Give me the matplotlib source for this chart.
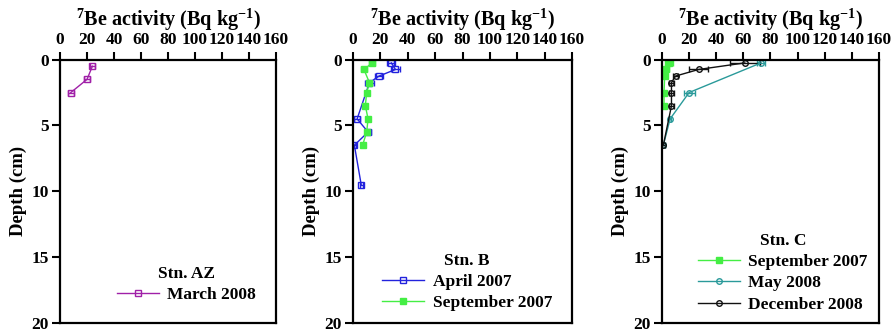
import matplotlib.pyplot as plt
from matplotlib.lines import Line2D

plt.rcParams['font.family'] = ['Liberation Serif', 'DejaVu Serif']
plt.rcParams['font.weight'] = 'bold'
plt.rcParams['mathtext.fontset'] = 'custom'
plt.rcParams['mathtext.rm'] = 'Liberation Serif:bold'
plt.rcParams['mathtext.bf'] = 'Liberation Serif:bold'
plt.rcParams['mathtext.it'] = 'Liberation Serif:bold'

# Stn. AZ, March 2008
az_depth = [0.5, 1.5, 2.5]
az_act = [24, 20, 8]
az_err = [2, 2, 2]

# Stn. B
b_apr_depth = [0.25, 0.75, 1.25, 1.75, 4.5, 5.5, 6.5, 9.5]
b_apr_act = [28, 31, 19, 12, 3, 11, 1, 6]
b_apr_err = [3, 3, 3, 3, 2, 2, 1, 1]
b_sep_depth = [0.25, 0.75, 1.75, 2.5, 3.5, 4.5, 5.5, 6.5]
b_sep_act = [14, 8, 12, 10, 9, 11, 10, 7]
b_sep_err = [2, 2, 2, 1, 1, 1, 1, 1]

# Stn. C
c_sep_depth = [0.25, 0.75, 1.25, 2.5, 3.5]
c_sep_act = [5, 3, 2, 1.5, 1.5]
c_sep_err = [3, 2, 1, 1, 1]
c_may_depth = [0.25, 2.5, 4.5, 6.5]
c_may_act = [73, 20, 6, 1]
c_may_err = [3, 4, 1, 1]
c_dec_depth = [0.25, 0.75, 1.25, 1.75, 2.5, 3.5, 6.5]
c_dec_act = [61, 27, 10, 7, 7, 7, 1]
c_dec_err = [11, 7, 2, 2, 2, 2, 1]

fig = plt.figure(figsize=(8.93, 3.33), dpi=100)
lefts = [0.0672, 0.3953, 0.7413]
widths = [0.2419, 0.2453, 0.243]
axes = [fig.add_axes([l, 0.030, w, 0.791]) for l, w in zip(lefts, widths)]

handles = [[], [], []]


def draw(i, act, depth, err, color, marker, label, filled=False):
    fc = color if filled else 'none'
    axes[i].errorbar(act, depth, xerr=err, color=color, marker=marker, ms=4,
                     mfc=fc, mec=color, mew=1, lw=1, elinewidth=1, capsize=2)
    handles[i].append(Line2D([], [], color=color, marker=marker, ms=4,
                             mfc=fc, mec=color, mew=1, lw=1, label=label))


draw(0, az_act, az_depth, az_err, '#a020a8', 's', 'March 2008')
draw(1, b_apr_act, b_apr_depth, b_apr_err, '#2222dd', 's', 'April 2007')
draw(1, b_sep_act, b_sep_depth, b_sep_err, '#44ee44', 's', 'September 2007', filled=True)
draw(2, c_sep_act, c_sep_depth, c_sep_err, '#44ee44', 's', 'September 2007', filled=True)
draw(2, c_may_act, c_may_depth, c_may_err, '#2a9a9a', 'o', 'May 2008')
draw(2, c_dec_act, c_dec_depth, c_dec_err, '#111111', 'o', 'December 2008')

titles = ['Stn. AZ', 'Stn. B', 'Stn. C']
anchors = [(0.98, 0.015), (0.98, -0.015), (1.02, -0.02)]
for ax, hs, stn, anc in zip(axes, handles, titles, anchors):
    ax.set_xlim(0, 160)
    ax.set_ylim(20, 0)
    ax.set_xticks(range(0, 161, 20))
    ax.set_yticks([0, 5, 10, 15, 20])
    ax.xaxis.tick_top()
    ax.xaxis.set_label_position('top')
    ax.set_xlabel(r'$^{7}$Be activity (Bq kg$^{-1}$)', fontsize=14.5,
                  fontweight='bold', labelpad=5)
    ax.set_ylabel('Depth (cm)', fontsize=13.5, fontweight='bold', labelpad=3)
    ax.tick_params(axis='both', labelsize=12.5, width=1.5, length=6,
                   direction='out', pad=2)
    for sp in ax.spines.values():
        sp.set_linewidth(1.6)
    leg = ax.legend(handles=hs, title=stn, loc='lower right',
                    bbox_to_anchor=anc, frameon=False, fontsize=12.5,
                    title_fontsize=12.5, numpoints=1, handlelength=2.4,
                    labelspacing=0.3, handletextpad=0.5)
    leg.get_title().set_fontweight('bold')

fig.savefig('out.png', dpi=100)
